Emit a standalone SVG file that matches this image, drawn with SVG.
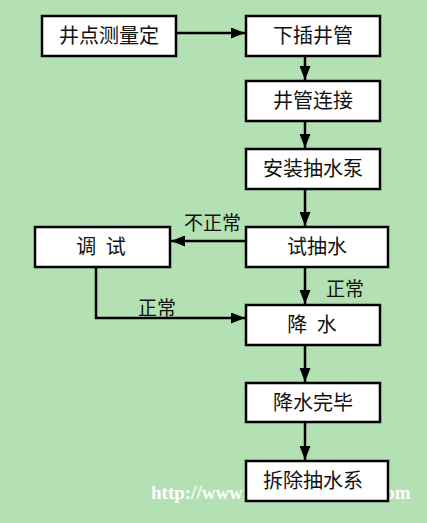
<svg xmlns="http://www.w3.org/2000/svg" width="427" height="523" viewBox="0 0 427 523">
<defs>
<style>
.box{fill:#fff;stroke:#000;stroke-width:2.5}
.t{font-family:"Noto Sans CJK SC","Noto Sans CJK TC",sans-serif;font-size:20px;fill:#111;text-anchor:middle}
.lbl{font-family:"Noto Sans CJK SC","Noto Sans CJK TC",sans-serif;font-size:19px;fill:#111}
.ln{fill:none;stroke:#000;stroke-width:2.5}
.wm{font-family:"Liberation Serif",serif;font-weight:bold;font-size:19px;fill:#fff}
</style>
<marker id="ah" viewBox="0 0 10 10" refX="10" refY="5" markerWidth="14" markerHeight="11" markerUnits="userSpaceOnUse" orient="auto" preserveAspectRatio="none">
<path d="M0,0 L10,5 L0,10 z" fill="#000"/>
</marker>
</defs>
<rect width="427" height="523" fill="#b4e1b4"/>
<text class="wm" x="151" y="499">http://www</text>
<text class="wm" x="372" y="499">.com</text>
<g id="connectors">
<path class="ln" d="M176,33 H245" marker-end="url(#ah)"/>
<path class="ln" d="M305,56 V80" marker-end="url(#ah)"/>
<path class="ln" d="M305,121 V148" marker-end="url(#ah)"/>
<path class="ln" d="M305,189 V226" marker-end="url(#ah)"/>
<path class="ln" d="M246,241 H171" marker-end="url(#ah)"/>
<path class="ln" d="M305,267 V304" marker-end="url(#ah)"/>
<path class="ln" d="M96,267 V318 H245" marker-end="url(#ah)"/>
<path class="ln" d="M305,345 V382" marker-end="url(#ah)"/>
<path class="ln" d="M305,422 V460" marker-end="url(#ah)"/>
<text class="lbl" x="184" y="230">不正常</text>
<text class="lbl" x="326" y="296">正常</text>
<text class="lbl" x="138" y="315">正常</text>
</g>
<g id="n1"><rect class="box" x="42" y="16" width="134" height="40"/><text class="t" x="109" y="43">井点测量定</text></g>
<g id="n2"><rect class="box" x="246" y="16" width="134" height="40"/><text class="t" x="313" y="43">下插井管</text></g>
<g id="n3"><rect class="box" x="246" y="81" width="134" height="40"/><text class="t" x="313" y="108">井管连接</text></g>
<g id="n4"><rect class="box" x="246" y="149" width="134" height="40"/><text class="t" x="313" y="176">安装抽水泵</text></g>
<g id="n5"><rect class="box" x="246" y="227" width="142" height="40"/><text class="t" x="317" y="254">试抽水</text></g>
<g id="n6"><rect class="box" x="35" y="227" width="135" height="40"/><text class="t" x="101" y="254" xml:space="preserve" style="word-spacing:5px">调 试</text></g>
<g id="n7"><rect class="box" x="246" y="305" width="134" height="40"/><text class="t" x="312" y="332" xml:space="preserve" style="word-spacing:5px">降 水</text></g>
<g id="n8"><rect class="box" x="246" y="383" width="134" height="39"/><text class="t" x="313" y="410">降水完毕</text></g>
<g id="n9"><rect class="box" x="246" y="461" width="142" height="40"/><text class="t" x="313" y="488">拆除抽水系</text></g>
</svg>
